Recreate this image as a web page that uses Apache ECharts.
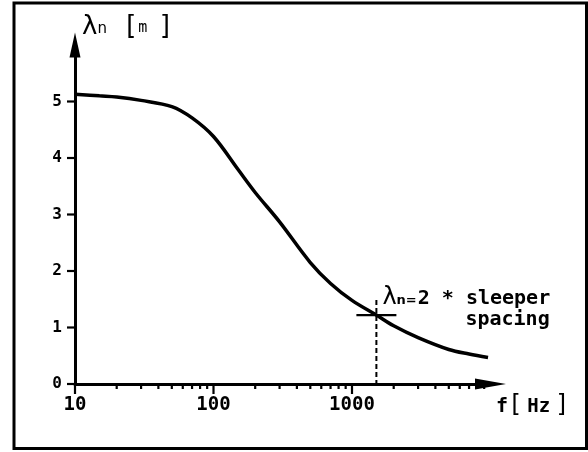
<!DOCTYPE html>
<html><head><meta charset="utf-8">
<script src="https://cdn.jsdelivr.net/npm/echarts@6/dist/echarts.min.js"></script>
<style>html,body{margin:0;padding:0;background:#fff}#c{width:588px;height:452px}</style>
</head><body><div id="c"></div>
<script>
// ---- data ----
const freqHz   = [10, 15, 20, 30, 50, 70, 100, 150, 200, 300, 500, 700, 1000, 1500, 2000, 3000, 5000, 7000, 9600];
const lambdaM  = [5.13, 5.10, 5.08, 5.02, 4.91, 4.71, 4.38, 3.80, 3.39, 2.87, 2.15, 1.78, 1.48, 1.22, 1.03, 0.82, 0.61, 0.53, 0.47];
const xMajorTicks = [10, 100, 1000];
const xMinorTicks = [20, 30, 40, 50, 60, 70, 80, 90, 200, 300, 400, 500, 600, 700, 800, 900, 2000, 3000, 4000, 5000, 6000, 7000, 8000, 9000];
const xTickLabels = ['10', '100', '1000'];
const yTicks = [0, 1, 2, 3, 4, 5];
const yTickLabels = ['0', '1', '2', '3', '4', '5'];
const markerPoint = [1500, 1.22];   // lambda_n = 2 * sleeper spacing
const markerLine1 = '2 * sleeper';
const markerLine2 = 'spacing';

const MONO = '"DejaVu Sans Mono", "Liberation Mono", monospace';
const SANS = '"DejaVu Sans", sans-serif';
const chart = echarts.init(document.getElementById('c'), null, {renderer: 'canvas'});

function tickSeries(vals, kind) {
  return {
    type: 'custom', coordinateSystem: 'cartesian2d', clip: false, silent: true, z: 5,
    data: vals.map(v => kind === 'y' ? [10, v] : [v, 0]),
    renderItem: function (params, api) {
      const p = api.coord([api.value(0), api.value(1)]);
      let shape;
      if (kind === 'y') shape = {x1: p[0] - 8, y1: p[1], x2: p[0], y2: p[1]};
      else if (kind === 'major') shape = {x1: p[0], y1: p[1], x2: p[0], y2: p[1] + 10};
      else shape = {x1: p[0], y1: p[1], x2: p[0], y2: p[1] + 5};
      return {type: 'line', shape: shape, style: {stroke: '#000', lineWidth: 2.2}};
    }
  };
}

const option = {
  animation: false,
  backgroundColor: '#fff',
  grid: {left: 75, right: 97.5, top: 45, bottom: 68, containLabel: false},
  xAxis: {
    type: 'log', logBase: 10, min: 10, max: 10000,
    axisLine: {lineStyle: {color: '#000', width: 3}, symbol: ['none', 'triangle'], symbolSize: [11, 31]},
    axisTick: {show: false}, minorTick: {show: false}, splitLine: {show: false}, minorSplitLine: {show: false},
    axisLabel: {
      color: '#000', fontFamily: MONO, fontSize: 19, fontWeight: 'bold', margin: 12, showMaxLabel: false,
      formatter: function (v) { const s = String(Math.round(v)); return xTickLabels.indexOf(s) >= 0 ? s : ''; }
    }
  },
  yAxis: {
    type: 'value', min: 0, max: 6, interval: 1,
    axisLine: {show: true, lineStyle: {color: '#000', width: 3}, symbol: ['none', 'triangle'], symbolSize: [11, 25]},
    axisTick: {show: false}, splitLine: {show: false},
    axisLabel: {
      color: '#000', fontFamily: MONO, fontSize: 16, fontWeight: 'bold', margin: 13, showMaxLabel: false,
      formatter: function (v) { const s = String(Math.round(v * 100) / 100); return yTickLabels.indexOf(s) >= 0 ? s : ''; }
    }
  },
  graphic: [
    {type: 'rect', shape: {x: 14, y: 3, width: 572.5, height: 445.5}, style: {fill: 'none', stroke: '#000', lineWidth: 3}, z: 100},
    {type: 'text', x: 82, y: 40, z: 100, style: {
      text: '{l|λ}{n|n}{s|  }{b|[}{m|m}{s| }{g|]}', verticalAlign: 'bottom', fill: '#000',
      rich: {
        l: {fontFamily: SANS, fontSize: 26, verticalAlign: 'bottom', fill: '#000'},
        n: {fontFamily: SANS, fontSize: 15, verticalAlign: 'bottom', fill: '#000', padding: [0, 0, 3, 0]},
        s: {fontFamily: MONO, fontSize: 13, verticalAlign: 'bottom'},
        b: {fontFamily: MONO, fontSize: 26, verticalAlign: 'bottom', fill: '#000'},
        g: {fontFamily: MONO, fontSize: 26, verticalAlign: 'bottom', fill: '#000', padding: [0, 0, 0, 3]},
        m: {fontFamily: MONO, fontSize: 15, verticalAlign: 'bottom', fill: '#000', padding: [0, 0, 4, 0]}
      }}},
    {type: 'text', x: 496, y: 418, z: 100, style: {
      text: '{f|f}{b|[}{s| }{h|Hz}{s| }{b|]}', verticalAlign: 'bottom', fill: '#000',
      rich: {
        f: {fontFamily: MONO, fontSize: 20, fontWeight: 'bold', verticalAlign: 'bottom', fill: '#000', padding: [0, 0, 1, 0]},
        b: {fontFamily: MONO, fontSize: 24, verticalAlign: 'bottom', fill: '#000'},
        s: {fontFamily: MONO, fontSize: 8, verticalAlign: 'bottom'},
        h: {fontFamily: MONO, fontSize: 19, fontWeight: 'bold', verticalAlign: 'bottom', fill: '#000', padding: [0, 0, 1, 0]}
      }}}
  ],
  series: [
    {
      type: 'line', data: freqHz.map((f, i) => [f, lambdaM[i]]),
      showSymbol: false, smooth: 0.35,
      lineStyle: {color: '#000', width: 3.5}, z: 3
    },
    tickSeries(xMajorTicks, 'major'),
    tickSeries(xMinorTicks, 'minor'),
    tickSeries(yTicks, 'y'),
    {
      type: 'custom', coordinateSystem: 'cartesian2d', clip: false, silent: true, z: 6,
      data: [markerPoint],
      renderItem: function (params, api) {
        const p = api.coord([api.value(0), api.value(1)]);
        const b = api.coord([api.value(0), 0]);
        return {
          type: 'group',
          children: [
            {type: 'line', shape: {x1: p[0] - 20, y1: p[1], x2: p[0] + 20, y2: p[1]}, style: {stroke: '#000', lineWidth: 2.2}},
            {type: 'line', shape: {x1: p[0], y1: p[1] - 15, x2: p[0], y2: b[1]}, style: {stroke: '#000', lineWidth: 2, lineDash: [5, 3]}},
            {type: 'text', x: p[0] + 6, y: p[1] - 5, style: {
              text: '{a|λ}{b|n=}{c|' + markerLine1 + '}', verticalAlign: 'bottom', fill: '#000',
              rich: {
                a: {fontFamily: SANS, fontSize: 24, verticalAlign: 'bottom', fill: '#000'},
                b: {fontFamily: SANS, fontSize: 13, fontWeight: 'bold', verticalAlign: 'bottom', fill: '#000', padding: [0, 1, 3, 0]},
                c: {fontFamily: MONO, fontSize: 20, fontWeight: 'bold', verticalAlign: 'bottom', fill: '#000', padding: [0, 0, 1, 0]}
              }}},
            {type: 'text', x: p[0] + 89, y: p[1] + 15, style: {
              text: markerLine2, font: 'bold 20px ' + MONO, verticalAlign: 'bottom', fill: '#000'}}
          ]
        };
      }
    }
  ]
};
chart.setOption(option);
</script></body></html>
